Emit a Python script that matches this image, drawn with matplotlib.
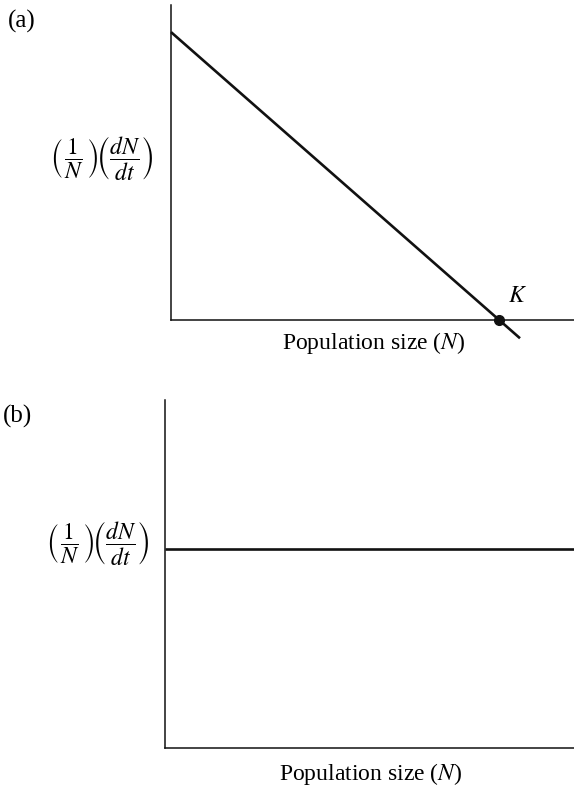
import matplotlib

matplotlib.use("Agg")
import matplotlib.pyplot as plt

# panel (a): logistic growth, per-capita rate falls linearly with N
a_n = [0.0, 86.6]
a_rate = [91.4, -5.8]
k_n = 81.4
k_rate = 0.0

# panel (b): exponential growth, constant per-capita rate
b_n = [0.0, 100.0]
b_rate = [57.2, 57.2]

W, H = 574, 792
plt.rcParams["font.family"] = ["Liberation Serif", "DejaVu Serif"]
plt.rcParams["mathtext.fontset"] = "stix"

fig = plt.figure(figsize=(W / 100, H / 100), dpi=100)


def px_axes(left, top, right, bottom):
    return fig.add_axes([left / W, 1 - bottom / H, (right - left) / W, (bottom - top) / H])


def style(ax):
    ax.set_xlim(0, 100)
    ax.set_ylim(0, 100)
    for side in ("top", "right"):
        ax.spines[side].set_visible(False)
    for side in ("left", "bottom"):
        ax.spines[side].set_linewidth(1.1)
        ax.spines[side].set_color("#111111")
    ax.set_xticks([])
    ax.set_yticks([])


def put(x, y, s, size, ha="center"):
    fig.text(x / W, 1 - y / H, s, fontsize=size, ha=ha, va="center")


ylab = r"$\left(\,\dfrac{1}{N}\,\right)\!\left(\dfrac{dN}{dt}\right)$"

ax1 = px_axes(171, 5, 574, 320)
style(ax1)
ax1.plot(a_n, a_rate, color="#111111", lw=1.9, clip_on=False, solid_capstyle="butt")
ax1.plot([k_n], [k_rate], "o", color="#111111", ms=7, clip_on=False)
ax1.text(k_n + 2.3, k_rate + 4.0, "$K$", fontsize=17, ha="left", va="bottom")
put(8, 21, "(a)", 18, ha="left")
put(374, 343, "Population size ($N$)", 17)
put(102, 158, ylab, 17)

ax2 = px_axes(165, 400, 574, 748)
style(ax2)
ax2.plot(b_n, b_rate, color="#111111", lw=1.9, clip_on=False, solid_capstyle="butt")
put(3, 416, "(b)", 18, ha="left")
put(371, 774, "Population size ($N$)", 17)
put(98, 543, ylab, 17)

fig.savefig("out.png", dpi=100)
